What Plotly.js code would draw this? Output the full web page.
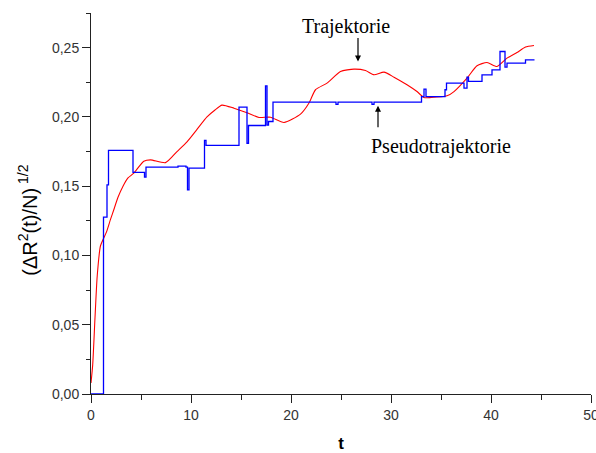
<!DOCTYPE html>
<html>
<head>
<meta charset="utf-8">
<script src="https://cdn.plot.ly/plotly-3.0.1.min.js"></script>
<style>html,body{margin:0;padding:0;background:#fff;}#chart{width:596px;height:453px;}</style>
</head>
<body>
<div id="chart"></div>
<script>
// Trajektorie (red, smooth)
const trajT = [0, 0.17, 0.4, 0.62, 0.95, 1.55, 1.95, 2.28, 2.7, 3.2, 3.7, 4.28, 5.28, 5.95, 7.45, 8.6, 9.6, 10.6, 11.6, 12.4, 13.1, 14.3, 15.6, 16.8, 17.95, 19.3, 20.95, 21.8, 22.45, 23.6, 24.95, 26.3, 27.45, 28.3, 29.3, 30.3, 31.6, 32.6, 33.3, 34.0, 35.6, 36.3, 37.6, 38.6, 39.6, 40.6, 41.6, 42.6, 43.45, 44.3];
const trajY = [0.008, 0.021, 0.055, 0.085, 0.107, 0.117, 0.126, 0.133, 0.142, 0.150, 0.156, 0.1594, 0.168, 0.169, 0.167, 0.175, 0.182, 0.191, 0.200, 0.205, 0.2085, 0.2063, 0.203, 0.1996, 0.1998, 0.196, 0.202, 0.210, 0.2196, 0.2244, 0.2328, 0.2345, 0.2335, 0.2304, 0.2323, 0.2287, 0.2232, 0.2183, 0.2140, 0.2140, 0.2152, 0.2183, 0.228, 0.2369, 0.2393, 0.2364, 0.2424, 0.2465, 0.2504, 0.2515];

// Pseudotrajektorie (blue, step function: value holds until next t)
const pseudoT = [0, 1.25, 1.6, 1.75, 4.2, 5.35, 5.5, 8.7, 9.5, 9.65, 9.8, 11.35, 11.5, 14.8, 15.6, 15.75, 17.45, 17.6, 17.75, 18.2, 24.5, 24.7, 28.1, 28.3, 33.05, 33.3, 33.5, 35.4, 35.55, 37.3, 37.6, 37.75, 39.1, 40.1, 40.9, 41.4, 41.6, 43.45, 44.35];
const pseudoY = [0, 0.1277, 0.151, 0.1758, 0.160, 0.1566, 0.1638, 0.1645, 0.1638, 0.1474, 0.163, 0.183, 0.1794, 0.207, 0.181, 0.1938, 0.2224, 0.194, 0.1967, 0.2107, 0.209, 0.2107, 0.209, 0.2107, 0.2147, 0.220, 0.2147, 0.2196, 0.2244, 0.2208, 0.2287, 0.2256, 0.2304, 0.234, 0.2472, 0.236, 0.2388, 0.2412, 0.2412];

const labelTraj = "Trajektorie";
const labelPseudo = "Pseudotrajektorie";
const xTitle = "t";
const yTitle = "(ΔR<sup>2</sup>(t)/N)<sup> 1/2</sup>";

const traces = [
  {x: trajT, y: trajY, mode: 'lines', type: 'scatter', line: {color: '#ff0000', width: 1.1, shape: 'spline', smoothing: 0.6}, hoverinfo: 'skip'},
  {x: pseudoT, y: pseudoY, mode: 'lines', type: 'scatter', line: {color: '#0000ff', width: 1.3, shape: 'hv'}, hoverinfo: 'skip'}
];

const layout = {
  width: 596, height: 453,
  margin: {l: 91, r: 5, t: 13, b: 59},
  paper_bgcolor: '#ffffff', plot_bgcolor: '#ffffff',
  showlegend: false,
  separators: ',.',
  font: {family: 'Liberation Sans, Arial, sans-serif', color: '#000'},
  xaxis: {
    range: [0, 50], dtick: 10, tick0: 0,
    showgrid: false, zeroline: false,
    showline: true, linecolor: '#222', linewidth: 1,
    ticks: 'outside', ticklen: 8, tickcolor: '#222', tickwidth: 1,
    ticklabeloverflow: 'allow',
    minor: {dtick: 5, ticks: 'outside', ticklen: 5, tickcolor: '#222', showgrid: false},
    tickfont: {size: 14, color: '#333', family: 'Liberation Sans, Arial, sans-serif'},
    title: {text: '<b>' + xTitle + '</b>', font: {size: 17, color: '#000'}, standoff: 18}
  },
  yaxis: {
    range: [0, 0.275], dtick: 0.05, tick0: 0, tickformat: '.2f',
    showgrid: false, zeroline: false,
    showline: true, linecolor: '#222', linewidth: 1,
    ticks: 'outside', ticklen: 8, tickcolor: '#222', tickwidth: 1,
    minor: {dtick: 0.025, ticks: 'outside', ticklen: 4, tickcolor: '#222', showgrid: false},
    tickfont: {size: 14, color: '#333', family: 'Liberation Sans, Arial, sans-serif'}
  },
  annotations: [
    {xref: 'paper', yref: 'paper', x: -0.126, y: 0.455, text: yTitle, textangle: -90, showarrow: false,
     font: {size: 20, color: '#000', family: 'Liberation Sans, Arial, sans-serif'}, xanchor: 'center', yanchor: 'middle'},
    {x: 25.5, y: 0.265, text: labelTraj, showarrow: false,
     font: {size: 20, color: '#000', family: 'Liberation Serif, Times New Roman, serif'}},
    {x: 26.7, y: 0.240, text: '', showarrow: true, ax: 0, ay: -25, arrowhead: 2, arrowsize: 1, arrowwidth: 1.2, arrowcolor: '#000'},
    {x: 34.95, y: 0.1784, text: labelPseudo, showarrow: false,
     font: {size: 20, color: '#000', family: 'Liberation Serif, Times New Roman, serif'}},
    {x: 28.7, y: 0.208, text: '', showarrow: true, ax: 0, ay: 23, arrowhead: 2, arrowsize: 1, arrowwidth: 1.2, arrowcolor: '#000'}
  ]
};

Plotly.newPlot('chart', traces, layout, {staticPlot: true, displayModeBar: false});
</script>
</body>
</html>
